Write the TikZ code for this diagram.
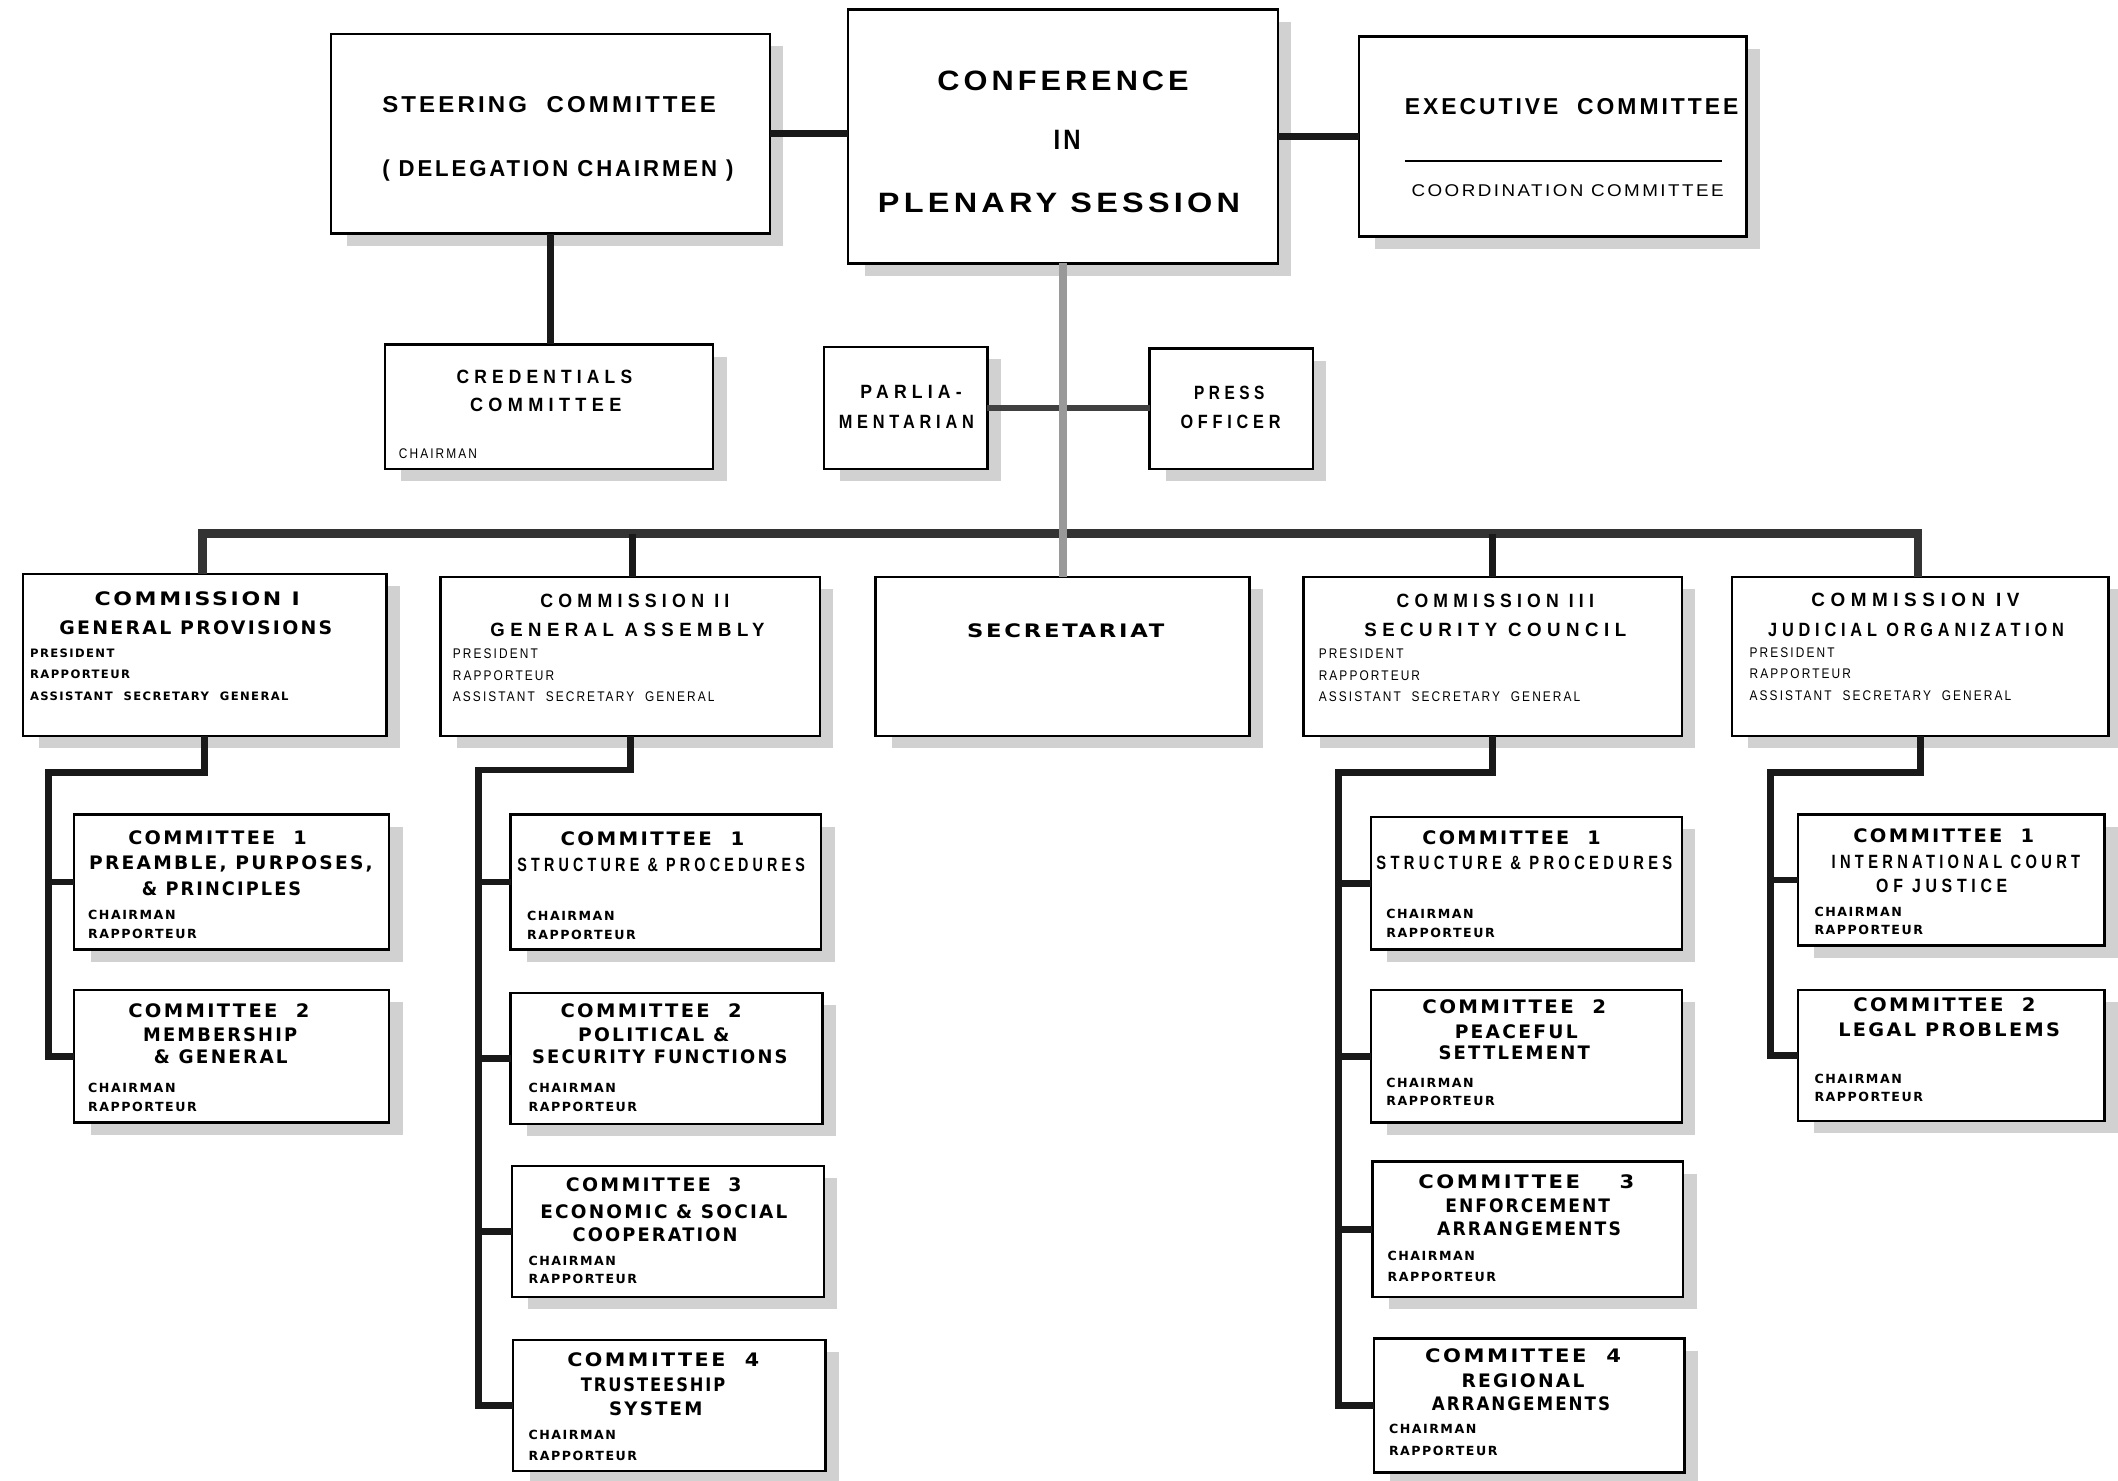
\documentclass[tikz,border=0pt]{standalone}
\usepackage{fontspec}
\usepackage{graphicx}
\usetikzlibrary{fit}
\setmainfont{Liberation Sans}
\newfontfamily\cnd[FakeStretch=0.85,LetterSpace=25]{Liberation Sans}
\newfontfamily\cnds[FakeStretch=0.85,LetterSpace=15]{Liberation Sans}
\newfontfamily\hdf[FakeStretch=0.92,LetterSpace=12]{Liberation Sans}
\newfontfamily\wde[LetterSpace=12]{DejaVu Sans}

\tikzset{
  boxst/.style={draw=black, line width=1.2pt, fill=white, inner sep=0pt, outer sep=0pt},
  shadowst/.style={fill=black!18},
  conn/.style={line width=3.4pt, draw=black!90},
  busst/.style={line width=4.2pt, draw=black!80},
  greyconn/.style={line width=4pt, draw=black!40},
  fBig/.style={font=\hdf\bfseries\fontsize{14}{16}\selectfont},
  fHead/.style={font=\hdf\bfseries\fontsize{11.5}{13}\selectfont},
  fCoord/.style={font=\hdf\fontsize{8.5}{10}\selectfont},
  fMid/.style={font=\cnd\bfseries\fontsize{9.6}{11}\selectfont},
  fWide/.style={font=\wde\bfseries\fontsize{9.3}{11}\selectfont},
  fSmall/.style={font=\cnds\fontsize{7}{8}\selectfont},
  fSmallW/.style={font=\wde\bfseries\fontsize{6.3}{8}\selectfont},
  fSmallK/.style={font=\wde\bfseries\fontsize{5.8}{8}\selectfont},
}

% box with stippled shadow: name, x1, y1, x2, y2
\newcommand\ubox[5]{%
  \fill[shadowst] (#2+12,#3+9) rectangle (#4+10,#5+9);
  \node[boxst, fit={(#2,#3)(#4,#5)}] (#1) {};}
% centred text line fitted to a width: name, xleft, xright, baseline, style, text
\newcommand\tx[6]{%
  \pgfmathsetlengthmacro\tw{(#3-#2)*0.6754}%
  \node[#5, anchor=base, inner sep=0pt] (#1) at ({(#2+#3)/2},#4) {\resizebox{\tw}{\height}{#6}};}
% left aligned line: name, x, baseline, style, text
\newcommand\rl[5]{\node[#4, anchor=base west, inner sep=0pt] (#1) at (#2,#3) {#5};}
\newcommand\crl[4]{\rl{#1a}{#2}{#3}{fSmallW}{CHAIRMAN}\rl{#1b}{#2}{#4}{fSmallW}{RAPPORTEUR}}
\newcommand\krl[4]{\rl{#1a}{#2}{#3}{#4}{PRESIDENT}\rl{#1b}{#2}{#3+16}{#4}{RAPPORTEUR}%
  \rl{#1c}{#2}{#3+32}{#4}{ASSISTANT~~SECRETARY~~GENERAL}}

\begin{document}
\begin{tikzpicture}[x=0.6754pt, y=-0.6754pt]
\fill[white] (0,0) rectangle (1568,1096);
\useasboundingbox (0,0) rectangle (1568,1096);

% ---- boxes ----
\ubox{steer}{245}{25}{570}{173}
\ubox{conf}{628}{7}{946}{195}
\ubox{exec}{1006}{27}{1293}{175}
\ubox{cred}{285}{255}{528}{347}
\ubox{parl}{610}{257}{731}{347}
\ubox{press}{851}{258}{972}{347}
\ubox{k1}{17}{425}{286}{545}
\ubox{k2}{326}{427}{607}{545}
\ubox{sec}{648}{427}{925}{545}
\ubox{k3}{965}{427}{1245}{545}
\ubox{k4}{1282}{427}{1561}{545}
\ubox{c11}{55}{603}{288}{703}
\ubox{c12}{55}{733}{288}{831}
\ubox{c21}{378}{603}{608}{703}
\ubox{c22}{378}{735}{609}{832}
\ubox{c23}{379}{863}{610}{960}
\ubox{c24}{380}{992}{611}{1089}
\ubox{c31}{1015}{605}{1245}{703}
\ubox{c32}{1015}{733}{1245}{831}
\ubox{c33}{1016}{860}{1246}{960}
\ubox{c34}{1017}{991}{1247}{1090}
\ubox{c41}{1331}{603}{1558}{700}
\ubox{c42}{1331}{733}{1558}{830}

% ---- connectors ----
\draw[conn] (steer.east) -- (steer.east -| conf.west);
\draw[conn] (conf.east) -- (conf.east -| exec.west);
\draw[conn] (steer.south) -- (steer.south |- cred.north);
\coordinate (b1) at (150,395);
\coordinate (b2) at (468,395);
\coordinate (b3) at (1105,395);
\coordinate (b4) at (1420,395);
\draw[busst] (b1 |- k1.north) -- (b1) -- (b4) -- (b4 |- k4.north);
\draw[conn] (b2) -- (b2 |- k2.north);
\draw[conn] (b3) -- (b3 |- k3.north);
\draw[conn, draw=black!75] (parl.east) -- (parl.east -| press.west);
\draw[greyconn] (conf.south) -- (conf.south |- sec.north);

\coordinate (s1) at (36,572);
\draw[conn] (k1.south) |- (s1) |- (c12.west);
\draw[conn] (s1 |- c11.west) -- (c11.west);
\coordinate (s2) at (354,570);
\draw[conn] (k2.south) |- (s2) |- (c24.west);
\foreach \c in {c21,c22,c23} \draw[conn] (s2 |- \c.west) -- (\c.west);
\coordinate (s3) at (991,572);
\draw[conn] (k3.south) |- (s3) |- (c34.west);
\foreach \c in {c31,c32,c33} \draw[conn] (s3 |- \c.west) -- (\c.west);
\coordinate (s4) at (1311,572);
\draw[conn] (k4.south) |- (s4) |- (c42.west);
\draw[conn] (s4 |- c41.west) -- (c41.west);

\draw[line width=1pt] (1040,119) -- (1275,119);

% ---- texts ----
\tx{st1}{283}{530}{83}{fHead}{STEERING~~COMMITTEE}
\tx{st2}{283}{543}{131}{fHead}{( DELEGATION CHAIRMEN )}
\tx{cf1}{694}{880}{67}{fBig}{CONFERENCE}
\tx{cf2}{780}{800}{111}{fBig}{IN}
\tx{cf3}{650}{918}{157}{fBig}{PLENARY SESSION}
\tx{ex1}{1040}{1287}{85}{fHead}{EXECUTIVE~~COMMITTEE}
\tx{ex2}{1045}{1276}{145.5}{fCoord}{COORDINATION COMMITTEE}
\tx{cr1}{338}{468}{284}{fMid}{CREDENTIALS}
\tx{cr2}{348}{460}{305}{fMid}{COMMITTEE}
\rl{cr3}{295}{339.5}{fSmall}{CHAIRMAN}
\tx{pa1}{637}{712}{295}{fMid}{PARLIA-}
\tx{pa2}{621}{721}{317}{fMid}{MENTARIAN}
\tx{pr1}{884}{936}{296}{fMid}{PRESS}
\tx{pr2}{874}{948}{317}{fMid}{OFFICER}

\tx{k1t}{70}{222}{448}{fWide}{COMMISSION I}
\tx{k1s}{44}{246}{470}{fWide}{GENERAL PROVISIONS}
\krl{k1r}{22}{486.5}{fSmallK}
\tx{k2t}{400}{540}{450}{fMid}{COMMISSION II}
\tx{k2s}{363}{566}{471}{fMid}{GENERAL~ASSEMBLY}
\krl{k2r}{335}{487.5}{fSmall}
\tx{sect}{716}{862}{472}{fWide}{SECRETARIAT}
\tx{k3t}{1034}{1180}{450}{fMid}{COMMISSION III}
\tx{k3s}{1010}{1204}{471}{fMid}{SECURITY~COUNCIL}
\krl{k3r}{976}{487.5}{fSmall}
\tx{k4t}{1341}{1495}{449}{fMid}{COMMISSION IV}
\tx{k4s}{1309}{1528}{471}{fMid}{JUDICIAL~ORGANIZATION}
\krl{k4r}{1295}{486.5}{fSmall}

\tx{c11a}{95}{227}{625}{fWide}{COMMITTEE~~1}
\tx{c11b}{66}{276}{644}{fWide}{PREAMBLE, PURPOSES,}
\tx{c11c}{105}{223}{663}{fWide}{\& PRINCIPLES}
\crl{c11r}{65}{680.5}{694.5}
\tx{c12a}{95}{229}{753}{fWide}{COMMITTEE~~2}
\tx{c12b}{106}{220}{771}{fWide}{MEMBERSHIP}
\tx{c12c}{114}{213}{787}{fWide}{\& GENERAL}
\crl{c12r}{65}{808.5}{822.5}

\tx{c21a}{415}{551}{626}{fWide}{COMMITTEE~~1}
\tx{c21b}{383}{596}{645}{fMid}{STRUCTURE \& PROCEDURES}
\crl{c21r}{390}{681.5}{695.5}
\tx{c22a}{415}{549}{753}{fWide}{COMMITTEE~~2}
\tx{c22b}{428}{540}{771}{fWide}{POLITICAL \&}
\tx{c22c}{394}{583}{787}{fWide}{SECURITY FUNCTIONS}
\crl{c22r}{391}{808.5}{822.5}
\tx{c23a}{419}{549}{882}{fWide}{COMMITTEE~~3}
\tx{c23b}{400}{583}{902}{fWide}{ECONOMIC \& SOCIAL}
\tx{c23c}{424}{546}{919}{fWide}{COOPERATION}
\crl{c23r}{391}{936.5}{950.5}
\tx{c24a}{420}{562}{1012}{fWide}{COMMITTEE~~4}
\tx{c24b}{430}{537}{1030}{fWide}{TRUSTEESHIP}
\tx{c24c}{451}{520}{1048}{fWide}{SYSTEM}
\crl{c24r}{391}{1065.5}{1081.5}

\tx{c31a}{1053}{1185}{625}{fWide}{COMMITTEE~~1}
\tx{c31b}{1019}{1238}{643.5}{fMid}{STRUCTURE \& PROCEDURES}
\crl{c31r}{1026}{680}{694}
\tx{c32a}{1053}{1189}{750}{fWide}{COMMITTEE~~2}
\tx{c32b}{1077}{1168}{769}{fWide}{PEACEFUL}
\tx{c32c}{1065}{1177}{784}{fWide}{SETTLEMENT}
\crl{c32r}{1026}{805}{818.5}
\tx{c33a}{1050}{1210}{880}{fWide}{COMMITTEE~~~~3}
\tx{c33b}{1070}{1192}{898}{fWide}{ENFORCEMENT}
\tx{c33c}{1064}{1200}{915}{fWide}{ARRANGEMENTS}
\crl{c33r}{1027}{933.5}{948.5}
\tx{c34a}{1055}{1200}{1009}{fWide}{COMMITTEE~~4}
\tx{c34b}{1082}{1173}{1027}{fWide}{REGIONAL}
\tx{c34c}{1060}{1192}{1044}{fWide}{ARRANGEMENTS}
\crl{c34r}{1028}{1061.5}{1077.5}

\tx{c41a}{1372}{1506}{624}{fWide}{COMMITTEE~~1}
\tx{c41b}{1356}{1540}{643}{fMid}{INTERNATIONAL COURT}
\tx{c41c}{1389}{1486}{661}{fMid}{OF JUSTICE}
\crl{c41r}{1343}{678.5}{692}
\tx{c42a}{1372}{1507}{749}{fWide}{COMMITTEE~~2}
\tx{c42b}{1361}{1525}{767.5}{fWide}{LEGAL~PROBLEMS}
\crl{c42r}{1343}{802}{815.5}
\end{tikzpicture}
\end{document}
